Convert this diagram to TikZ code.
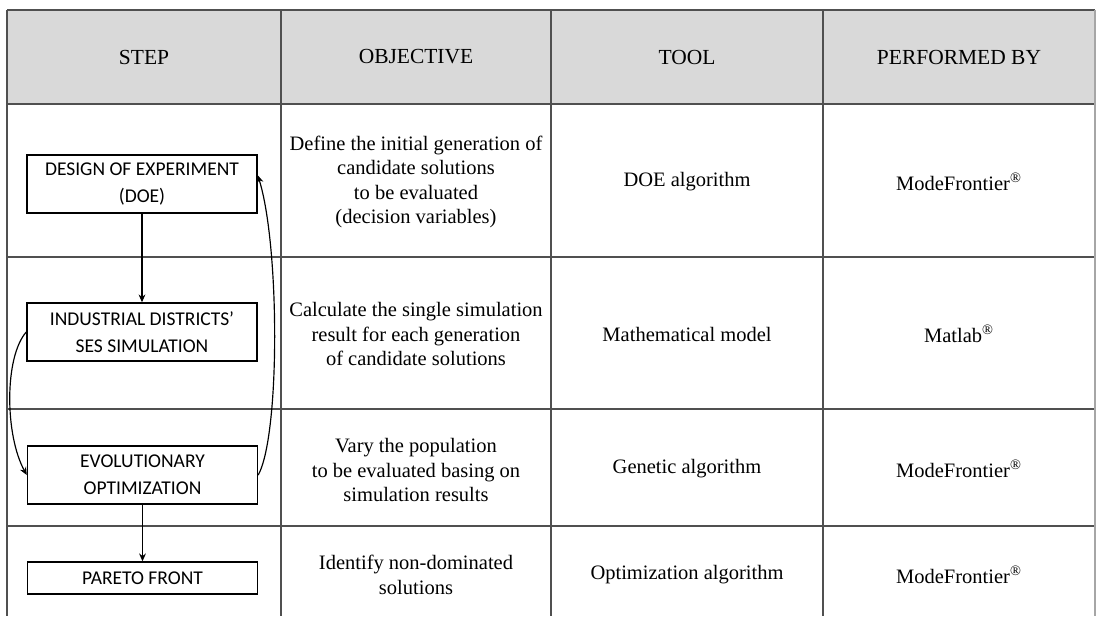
\documentclass[tikz,border=0pt]{standalone}
\usepackage{fontspec}
\setmainfont{Liberation Serif}
\newfontfamily\boxfont{Carlito}
\usepackage{tikz}
\usetikzlibrary{arrows.meta}
\definecolor{headgray}{RGB}{217,217,217}
\definecolor{gridgray}{RGB}{80,80,80}
\tikzset{
    grid/.style={draw=gridgray, line width=0.8pt},
    head/.style={font=\fontsize{11}{13}\selectfont, align=center},
    cell/.style={font=\fontsize{10.5}{12.5}\selectfont, align=center},
    stepbox/.style={rectangle, draw, line width=0.75pt, minimum width=230*0.018cm, inner sep=0pt, align=center, font=\boxfont\fontsize{10}{14}\selectfont},
    flow/.style={-{Stealth[length=4pt,width=3.5pt]}, line width=0.6pt}
}

\begin{document}
\begin{tikzpicture}[x=0.018cm, y=-0.018cm]
\useasboundingbox (0,0) rectangle (1097,616);

% Header row
\fill[headgray] (7,10) rectangle (1095,104);
\node[head] (hstep) at (144,57) {STEP};
\node[head] (hobj) at (416,57) {OBJECTIVE};
\node[head] (htool) at (687,57) {TOOL};
\node[head] (hby) at (959,57) {PERFORMED BY};

% Table grid
\draw[grid] (7,10) -- (1095,10);
\draw[grid] (7,104) -- (1095,104);
\draw[grid] (7,257) -- (1095,257);
\draw[grid] (7,409) -- (1095,409);
\draw[grid] (7,526) -- (1095,526);
\draw[grid] (7,10) -- (7,616);
\draw[grid] (281,10) -- (281,616);
\draw[grid] (551,10) -- (551,616);
\draw[grid] (823,10) -- (823,616);
\draw[grid, draw=black!35] (1095,10) -- (1095,616);

% Steps
\node[stepbox, minimum height=58*0.018cm] (doe) at (142,184) {DESIGN OF EXPERIMENT\\(DOE)};
\node[stepbox, minimum height=58*0.018cm] (sim) at (142,332) {INDUSTRIAL DISTRICTS’\\SES SIMULATION};
\node[stepbox, minimum height=58*0.018cm] (evo) at (142.5,475) {EVOLUTIONARY\\OPTIMIZATION};
\node[stepbox, minimum height=32*0.018cm] (pareto) at (142.5,578) {PARETO FRONT};

% Flow arrows
\draw[flow] (doe) -- (sim);
\draw[flow] (evo) -- (pareto);
\draw[flow] (sim.west) .. controls +(-22,25) and +(-22,-40) .. (evo.west);
\draw[flow] (evo.east) .. controls +(22,-40) and +(22,70) .. ([yshift=4.5pt]doe.east);

% Objectives
\node[cell] (obj1) at (416,182) {Define the initial generation of\\candidate solutions\\to be evaluated\\(decision variables)};
\node[cell] (obj2) at (416,334) {Calculate the single simulation\\result for each generation\\of candidate solutions};
\node[cell] (obj3) at (416,470) {Vary the population\\to be evaluated basing on\\simulation results};
\node[cell] (obj4) at (416,575) {Identify non-dominated\\solutions};

% Tools
\node[cell] (tool1) at (687,182) {DOE algorithm};
\node[cell] (tool2) at (687,334) {Mathematical model};
\node[cell] (tool3) at (687,469) {Genetic algorithm};
\node[cell] (tool4) at (687,575) {Optimization algorithm};

% Performed by
\node[cell] (by1) at (959,182) {ModeFrontier\textsuperscript{®}};
\node[cell] (by2) at (959,334) {Matlab\textsuperscript{®}};
\node[cell] (by3) at (959,469) {ModeFrontier\textsuperscript{®}};
\node[cell] (by4) at (959,575) {ModeFrontier\textsuperscript{®}};
\end{tikzpicture}
\end{document}
